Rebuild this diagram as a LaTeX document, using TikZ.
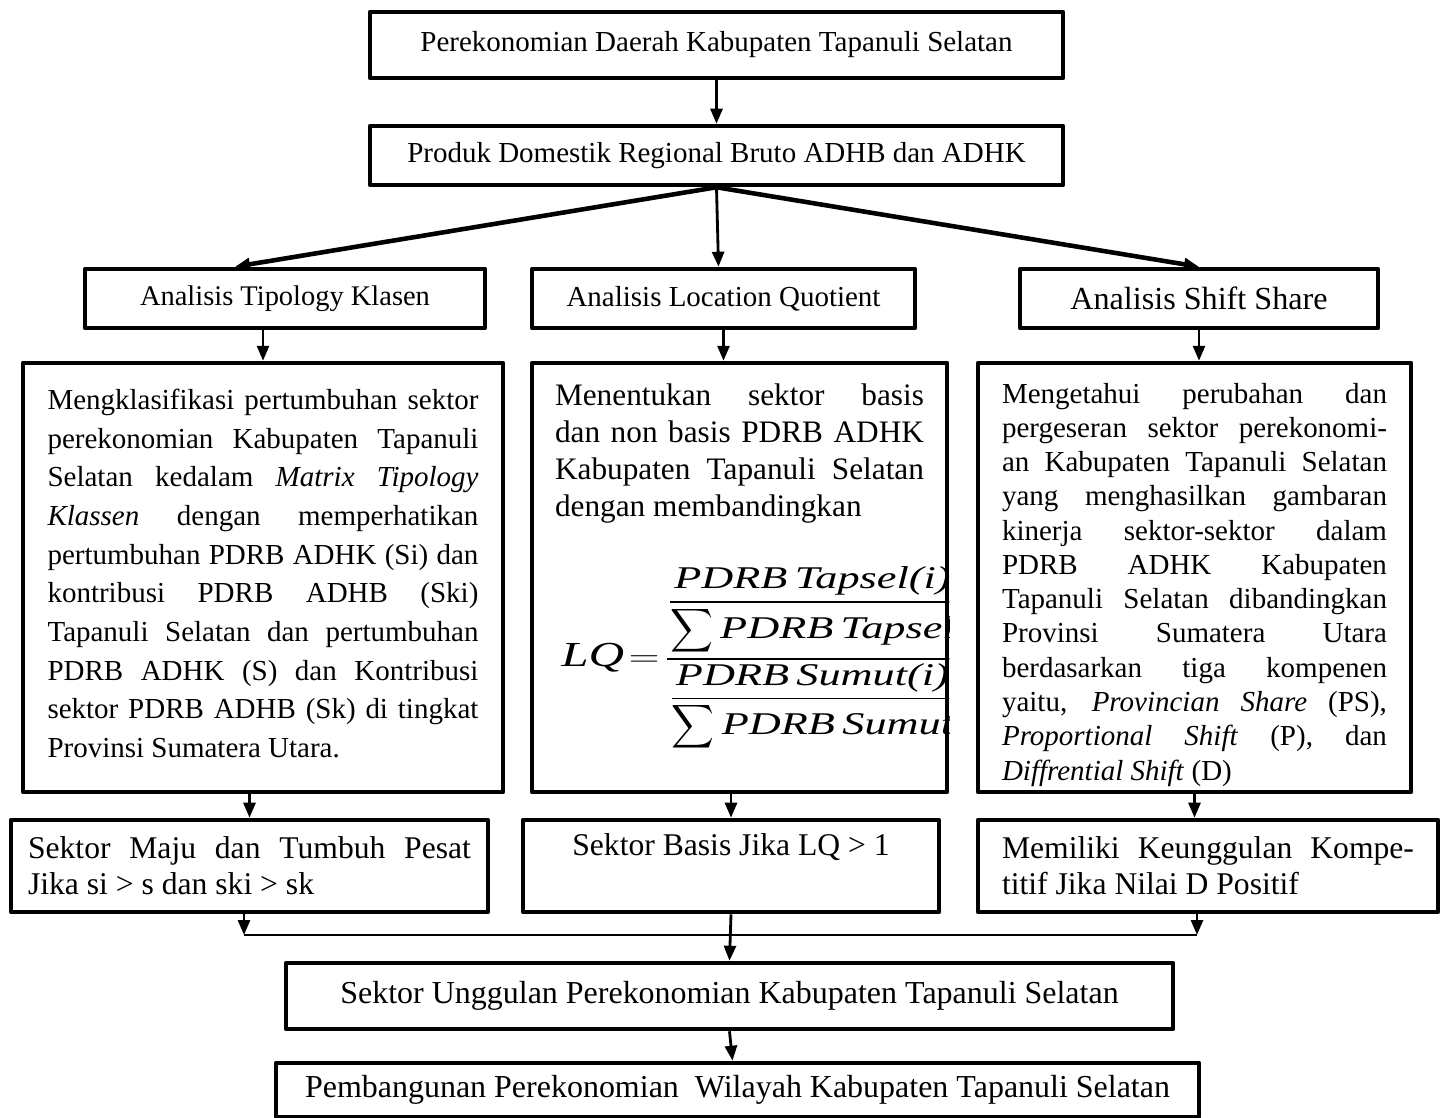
\documentclass[tikz,border=0pt]{standalone}
\usepackage{amsmath}
\usepackage{graphicx}
\usepackage{fontspec}
\setmainfont{Liberation Serif}
\usetikzlibrary{arrows.meta,calc}
\newcommand{\topbox}[3]{\parbox[t][#2][t]{#1}{#3}}
\newcommand{\bigsum}{\mathop{\scalebox{0.7}[1]{$\displaystyle\sum$}}}
\newcommand{\sizebody}{\fontsize{16.5}{20}\selectfont}
\newcommand{\sizebig}{\fontsize{18}{20.4}\selectfont}
\tikzset{
  box/.style={draw, line width=2.6pt, inner sep=0pt, align=center, line join=round},
  arr/.style={-{Triangle[length=0.3cm,width=0.24cm]}, line width=1.6pt},
  bigarr/.style={arr, line width=2.6pt}
}

\begin{document}
\begin{tikzpicture}[x=0.02cm, y=-0.02cm]
\useasboundingbox (0,0) rectangle (1444,1118);
\node[box, minimum width=13.86cm, minimum height=1.32cm, font=\sizebody] (b1) at (716.5,45) {Perekonomian Daerah Kabupaten Tapanuli Selatan};
\node[box, minimum width=13.86cm, minimum height=1.18cm, font=\sizebody] (b2) at (716.5,155.5) {Produk Domestik Regional Bruto ADHB dan ADHK};

\node[box, minimum width=8cm, minimum height=1.18cm, font=\fontsize{16.2}{20}\selectfont] (b3a) at (285,298.5) {Analisis Tipology Klasen};
\node[box, minimum width=7.66cm, minimum height=1.18cm, font=\fontsize{16.5}{20}\selectfont] (b3b) at (723.5,298.5) {Analisis Location Quotient};
\node[box, minimum width=7.16cm, minimum height=1.18cm, font=\fontsize{18.3}{20}\selectfont] (b3c) at (1199,298.5) {Analisis Shift Share};

\node[box, minimum width=9.6cm, minimum height=8.58cm] (b4a) at (263,577.5) {\topbox{8.62cm}{7.54cm}{\fontsize{16.5}{22}\selectfont
Mengklasifikasi pertumbuhan sektor\linebreak
perekonomian Kabupaten Tapanuli\linebreak
Selatan kedalam \textit{Matrix Tipology}\linebreak
\textit{Klassen} dengan memperhatikan\linebreak
pertumbuhan PDRB ADHK (Si) dan\linebreak
kontribusi PDRB ADHB (Ski)\linebreak
Tapanuli Selatan dan pertumbuhan\linebreak
PDRB ADHK (S) dan Kontribusi\linebreak
sektor PDRB ADHB (Sk) di tingkat\linebreak
Provinsi Sumatera Utara.}};
\node[box, minimum width=8.3cm, minimum height=8.58cm] (b4b) at (739.5,577.5) {\topbox{7.38cm}{7.74cm}{\fontsize{17.8}{21}\selectfont
Menentukan sektor basis\linebreak
dan non basis PDRB ADHK\linebreak
Kabupaten Tapanuli Selatan\linebreak
dengan membandingkan}};
\node[box, minimum width=8.66cm, minimum height=8.58cm] (b4c) at (1194.5,577.5) {\topbox{7.7cm}{7.78cm}{\fontsize{16.5}{19.5}\selectfont
Mengetahui perubahan dan\linebreak
pergeseran sektor perekonomi-\linebreak
an Kabupaten Tapanuli Selatan\linebreak
yang menghasilkan gambaran\linebreak
kinerja sektor-sektor dalam\linebreak
PDRB ADHK Kabupaten\linebreak
Tapanuli Selatan dibandingkan\linebreak
Provinsi Sumatera Utara\linebreak
berdasarkan tiga kompenen\linebreak
yaitu, \textit{Provincian Share} (PS),\linebreak
\textit{Proportional Shift} (P), dan\linebreak
\textit{Diffrential Shift} (D)}};

\begin{scope}
  \clip (b4b.north west) rectangle (b4b.south east);
  \node[anchor=west, inner sep=0pt] (lq) at (561,659) {\scalebox{1.4}[1]{\fontsize{18}{22}\selectfont
  $\displaystyle \text{\fontsize{20}{22}\selectfont\itshape LQ}\!=\!\frac{\dfrac{\textit{PDRB\,Tapsel(i)}}{\bigsum\textit{PDRB\,Tapsel}}}{\dfrac{\textit{PDRB\,Sumut(i)}}{\bigsum\textit{PDRB\,Sumut}}}$}};
\end{scope}

\node[box, minimum width=9.54cm, minimum height=1.84cm] (b5a) at (249.5,866) {\parbox{8.86cm}{\sizebig
Sektor Maju dan Tumbuh Pesat\linebreak Jika si > s dan ski > sk}};
\node[box, minimum width=8.32cm, minimum height=1.84cm] (b5b) at (731,866) {\parbox{8cm}{\sizebig\centering
\strut Sektor Basis Jika LQ > 1\\ \strut}};
\node[box, minimum width=9.2cm, minimum height=1.84cm] (b5c) at (1208,866) {\parbox{8.24cm}{\sizebig
Memiliki Keunggulan Kompe-\linebreak titif Jika Nilai D Positif}};

\node[box, minimum width=17.74cm, minimum height=1.32cm, font=\fontsize{18.2}{20}\selectfont] (b6) at (729.5,996) {Sektor Unggulan Perekonomian Kabupaten Tapanuli Selatan};
\node[box, minimum width=18.46cm, minimum height=1.08cm, font=\fontsize{18.2}{20}\selectfont] (b7) at (737.5,1090) {Pembangunan Perekonomian\ \ Wilayah Kabupaten Tapanuli Selatan};

\coordinate (jl) at (244,935);
\coordinate (jr) at (1197,935);

\draw[arr] (b1.south) -- (b2.north);
\draw[bigarr] (b2.south) -- ($(b3a.north)+(-50,0)$);
\draw[arr] (b2.south) -- ($(b3b.north)+(-5,0)$);
\draw[bigarr] (b2.south) -- (b3c.north);
\draw[arr] (b4a.north |- b3a.south) -- (b4a.north);
\draw[arr] (b3b.south) -- (b3b.south |- b4b.north);
\draw[arr] (b3c.south) -- (b3c.south |- b4c.north);
\draw[arr] (b5a.north |- b4a.south) -- (b5a.north);
\draw[arr] (b5b.north |- b4b.south) -- (b5b.north);
\draw[arr] (b4c.south) -- (b4c.south |- b5c.north);
\draw[arr] (b5a.south -| jl) -- (jl);
\draw[arr] (b5c.south -| jr) -- (jr);
\draw[line width=1pt] (jl) -- (jr);
\draw[arr] (b5b.south) -- (b6.north);
\draw[arr] (b6.south) -- ($(b7.north)+(-5,0)$);
\end{tikzpicture}
\end{document}
